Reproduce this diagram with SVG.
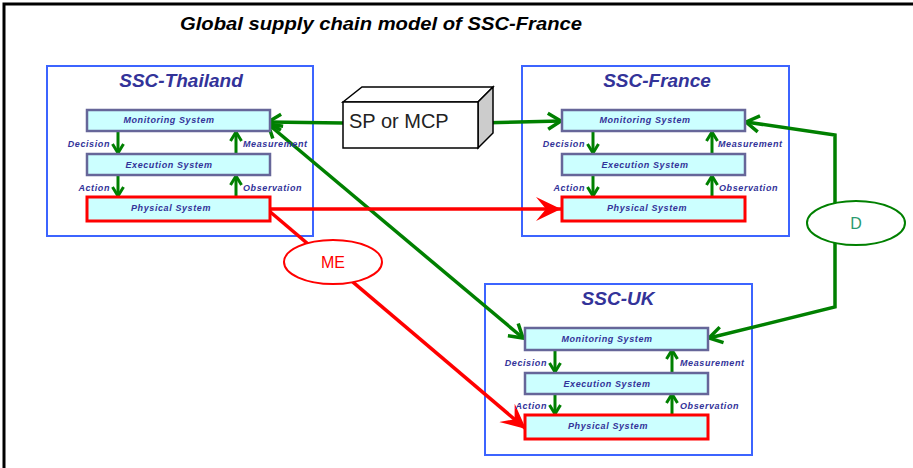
<svg xmlns="http://www.w3.org/2000/svg" width="913" height="468" viewBox="0 0 913 468">
<style>
.frame{fill:#fff;stroke:#000;stroke-width:3}
.ssc{fill:#fff;stroke:#3c64ff;stroke-width:2}
.ssct{font-family:"Liberation Sans",Arial,sans-serif;font-weight:bold;font-style:italic;font-size:19px;fill:#333399;text-anchor:middle}
.sys{fill:#ccffff;stroke:#666699;stroke-width:2.5}
.phys{fill:#ccffff;stroke:#ff0000;stroke-width:3}
.syst{font-family:"Liberation Sans",Arial,sans-serif;font-weight:bold;font-style:italic;font-size:9px;letter-spacing:0.6px;fill:#333399;text-anchor:middle}
.lbl{font-family:"Liberation Sans",Arial,sans-serif;font-weight:bold;font-style:italic;font-size:9px;letter-spacing:0.6px;fill:#333399}
.in{stroke:#008000;stroke-width:3;fill:none;marker-end:url(#gs)}
.g{stroke:#008000;stroke-width:3.5;fill:none}
.r{stroke:#ff0000;stroke-width:3.5;fill:none}
</style>
<defs>
<marker id="gv" viewBox="0 0 20 20" refX="18" refY="10" markerWidth="20" markerHeight="20" markerUnits="userSpaceOnUse" orient="auto-start-reverse">
<path d="M5,2 L18,10 L5,18" fill="none" stroke="#008000" stroke-width="3.5"/>
</marker>
<marker id="gs" viewBox="0 0 14 14" refX="12" refY="7" markerWidth="14" markerHeight="14" markerUnits="userSpaceOnUse" orient="auto">
<path d="M3,1.5 L12,7 L3,12.5" fill="none" stroke="#008000" stroke-width="3"/>
</marker>
<marker id="ra" viewBox="0 0 26 26" refX="25" refY="13" markerWidth="26" markerHeight="26" markerUnits="userSpaceOnUse" orient="auto">
<path d="M25,13 L0,1 L10,13 L0,25 Z" fill="#ff0000"/>
</marker>
</defs>
<rect class="frame" x="4" y="4" width="920" height="480"/>
<text x="180" y="30" font-family="'Liberation Sans',Arial,sans-serif" font-weight="bold" font-style="italic" font-size="18" textLength="402" lengthAdjust="spacingAndGlyphs" fill="#000">Global supply chain model of SSC-France</text>

<g id="ssc-thailand">
<rect class="ssc" x="47" y="66" width="266" height="170"/>
<text class="ssct" x="181" y="87">SSC-Thailand</text>
</g>
<g id="ssc-france">
<rect class="ssc" x="522" y="66" width="267" height="170"/>
<text class="ssct" x="657" y="87">SSC-France</text>
</g>
<g id="ssc-uk">
<rect class="ssc" x="485" y="284" width="267" height="171"/>
<text class="ssct" x="618" y="305">SSC-UK</text>
</g>

<g id="connectors">
<line class="g" x1="343" y1="123" x2="268" y2="122" marker-end="url(#gv)"/>
<line class="g" x1="478" y1="123" x2="561" y2="121" marker-end="url(#gv)"/>
<line class="g" x1="268" y1="124" x2="523" y2="338" marker-start="url(#gv)" marker-end="url(#gv)"/>
<polyline class="g" points="746,122 835,135 835,307 709,338" marker-start="url(#gv)" marker-end="url(#gv)"/>
<line class="r" x1="270" y1="209" x2="561" y2="209" marker-end="url(#ra)"/>
<line class="r" x1="268" y1="210" x2="526" y2="429" marker-end="url(#ra)"/>
</g>

<g id="sp-mcp">
<polygon points="343,102 362,87 493,87 478,102" fill="#fff" stroke="#000" stroke-width="1.5"/>
<polygon points="478,102 493,87 493,133 478,148" fill="#cccccc" stroke="#000" stroke-width="1.5"/>
<rect x="343" y="102" width="135" height="46" fill="#fff" stroke="#000" stroke-width="1.5"/>
<text x="349" y="128" font-family="'Liberation Sans',Arial,sans-serif" font-size="20" fill="#222">SP or MCP</text>
</g>

<g id="me">
<ellipse cx="333" cy="262" rx="49" ry="22" fill="#fff" stroke="#ff0000" stroke-width="2"/>
<text x="333" y="268" font-family="'Liberation Sans',Arial,sans-serif" font-size="16" fill="#ff0000" text-anchor="middle">ME</text>
</g>
<g id="d">
<ellipse cx="856" cy="223" rx="49" ry="22" fill="#fff" stroke="#008000" stroke-width="2"/>
<text x="856" y="229" font-family="'Liberation Sans',Arial,sans-serif" font-size="16" fill="#2a9a70" text-anchor="middle">D</text>
</g>

<g id="thailand-systems">
<line class="in" x1="118" y1="132" x2="118" y2="153"/>
<line class="in" x1="236" y1="153" x2="236" y2="132"/>
<line class="in" x1="118" y1="176" x2="118" y2="196"/>
<line class="in" x1="236" y1="196" x2="236" y2="176"/>
<rect class="sys" x="87" y="110" width="183" height="21"/>
<text class="syst" x="169" y="123">Monitoring System</text>
<rect class="sys" x="87" y="154" width="183" height="21"/>
<text class="syst" x="169" y="168">Execution System</text>
<rect class="phys" x="87" y="197" width="183" height="24"/>
<text class="syst" x="171" y="211">Physical System</text>
<text class="lbl" x="110" y="147" text-anchor="end">Decision</text>
<text class="lbl" x="243" y="147">Measurement</text>
<text class="lbl" x="110" y="191" text-anchor="end">Action</text>
<text class="lbl" x="243" y="191">Observation</text>
</g>

<g id="france-systems">
<line class="in" x1="593" y1="132" x2="593" y2="153"/>
<line class="in" x1="712" y1="153" x2="712" y2="132"/>
<line class="in" x1="593" y1="176" x2="593" y2="196"/>
<line class="in" x1="712" y1="196" x2="712" y2="176"/>
<rect class="sys" x="562" y="110" width="183" height="21"/>
<text class="syst" x="645" y="123">Monitoring System</text>
<rect class="sys" x="562" y="154" width="183" height="21"/>
<text class="syst" x="645" y="168">Execution System</text>
<rect class="phys" x="562" y="197" width="183" height="24"/>
<text class="syst" x="647" y="211">Physical System</text>
<text class="lbl" x="585" y="147" text-anchor="end">Decision</text>
<text class="lbl" x="718" y="147">Measurement</text>
<text class="lbl" x="585" y="191" text-anchor="end">Action</text>
<text class="lbl" x="719" y="191">Observation</text>
</g>

<g id="uk-systems">
<line class="in" x1="555" y1="350" x2="555" y2="372"/>
<line class="in" x1="672" y1="372" x2="672" y2="350"/>
<line class="in" x1="555" y1="394" x2="555" y2="414"/>
<line class="in" x1="672" y1="414" x2="672" y2="394"/>
<rect class="sys" x="525" y="328" width="183" height="22"/>
<text class="syst" x="607" y="342">Monitoring System</text>
<rect class="sys" x="525" y="373" width="183" height="21"/>
<text class="syst" x="607" y="387">Execution System</text>
<rect class="phys" x="525" y="415" width="183" height="24"/>
<text class="syst" x="608" y="429">Physical System</text>
<text class="lbl" x="547" y="366" text-anchor="end">Decision</text>
<text class="lbl" x="680" y="366">Measurement</text>
<text class="lbl" x="547" y="409" text-anchor="end">Action</text>
<text class="lbl" x="680" y="409">Observation</text>
</g>
</svg>
